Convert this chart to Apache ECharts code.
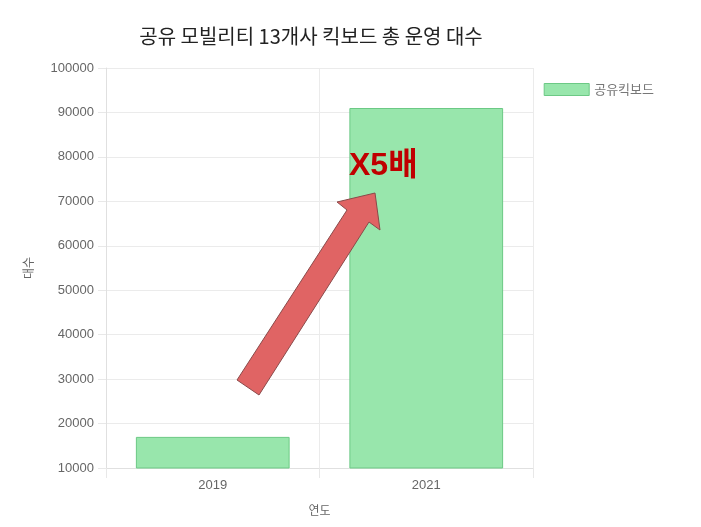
<!DOCTYPE html>
<html>
<head>
<meta charset="utf-8">
<script src="https://cdn.jsdelivr.net/npm/echarts@6/dist/echarts.min.js"></script>
<style>
  html, body { margin: 0; padding: 0; background: #fff; }
  #echart { width: 701px; height: 527px; }
</style>
</head>
<body>
<div id="echart"></div>
<script>
var dom = document.getElementById("echart");
var myChart = echarts.init(dom);

// data
let years = ['2019', '2021'];
let kickboards = [17000, 91000];
let yTicks = [10000, 20000, 30000, 40000, 50000, 60000, 70000, 80000, 90000, 100000];

let fontKo = '"Noto Sans CJK KR", "Liberation Sans", Arial, sans-serif';

var option = {
    animation: false,
    title: {
        text: '공유 모빌리티 13개사 킥보드 총 운영 대수',
        left: 306,
        textAlign: 'center',
        top: 21,
        textStyle: { fontFamily: fontKo, fontSize: 20, fontWeight: 'normal', color: '#222' }
    },
    legend: {
        right: 42,
        top: 78,
        icon: 'rect',
        itemWidth: 45,
        itemHeight: 12,
        itemGap: 8,
        textStyle: { fontFamily: fontKo, fontSize: 13, color: '#777' },
        itemStyle: { borderColor: '#6cc985', borderWidth: 1 },
        data: ['공유킥보드']
    },
    grid: {
        left: 106,
        right: 168,
        top: 68,
        bottom: 59
    },
    xAxis: {
        type: 'category',
        data: years,
        name: '연도',
        nameLocation: 'middle',
        nameGap: 36,
        nameTextStyle: { fontFamily: fontKo, fontSize: 12, color: '#666' },
        axisLine: { lineStyle: { color: '#e0e0e0' } },
        axisTick: { show: true, length: 10, lineStyle: { color: '#e8e8e8' } },
        axisLabel: { fontFamily: '"Liberation Sans", Arial, sans-serif', fontSize: 13, color: '#666', margin: 11 },
        splitLine: { show: true, lineStyle: { color: '#ebebeb' } }
    },
    yAxis: {
        type: 'value',
        min: yTicks[0],
        max: yTicks[yTicks.length - 1],
        interval: 10000,
        name: '대수',
        nameLocation: 'middle',
        nameGap: 72,
        nameTextStyle: { fontFamily: fontKo, fontSize: 12, color: '#666' },
        axisLine: { show: true, lineStyle: { color: '#e0e0e0' } },
        axisTick: { show: true, length: 8, lineStyle: { color: '#e8e8e8' } },
        axisLabel: {
            fontFamily: '"Liberation Sans", Arial, sans-serif', fontSize: 13, color: '#666', margin: 12,
            formatter: function (v) { return String(v); }
        },
        splitLine: { show: true, lineStyle: { color: '#ebebeb' } }
    },
    series: [
        {
            name: '공유킥보드',
            type: 'bar',
            data: kickboards,
            barWidth: '72%',
            itemStyle: {
                color: '#98e6ac',
                borderColor: '#6cc985',
                borderWidth: 1
            }
        }
    ],
    graphic: [
        {
            type: 'polygon',
            z: 100,
            shape: {
                points: [[237, 380], [347, 210], [337, 202], [375, 193], [380, 230], [369, 222], [259, 395]]
            },
            style: { fill: '#e06464', stroke: '#8a4a4a', lineWidth: 1 }
        },
        {
            type: 'text',
            z: 100,
            left: 349,
            top: 150,
            style: {
                text: 'X5배',
                fill: '#c00000',
                font: 'bold 32px "Liberation Sans", "Noto Sans CJK KR", sans-serif',
                shadowColor: 'rgba(0,0,0,0.35)',
                shadowBlur: 3,
                shadowOffsetX: 1,
                shadowOffsetY: 1
            }
        }
    ]
};

if (option && typeof option === 'object') {
    myChart.setOption(option);
}
</script>
</body>
</html>
